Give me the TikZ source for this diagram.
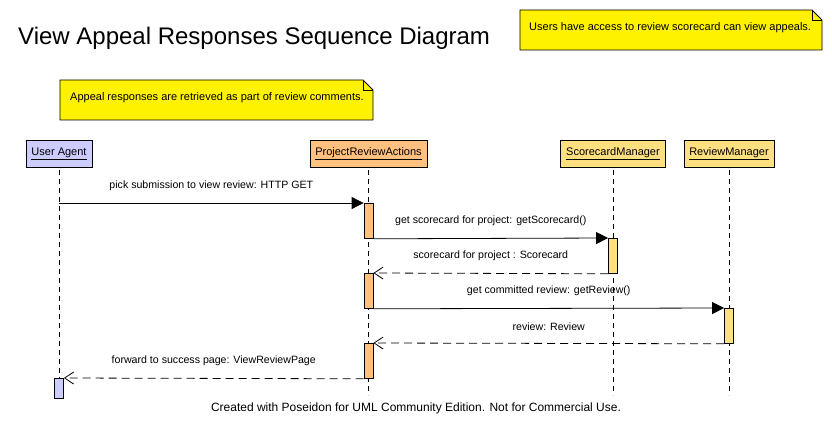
\documentclass[tikz,border=0pt]{standalone}
\usepackage{fontspec}
\setmainfont{Liberation Sans}
\usetikzlibrary{positioning,arrows.meta,calc}
\definecolor{agentblue}{HTML}{CCCCFF}
\definecolor{actorange}{HTML}{FFC080}
\definecolor{mgrgold}{HTML}{FFE080}

\begin{document}
\begin{tikzpicture}[x=1pt,y=-1pt,
  head/.style={draw,line width=0.8pt,minimum height=27pt,inner sep=0pt,font=\fontsize{11}{13}\selectfont},
  act/.style={draw,line width=0.8pt,minimum width=9pt,inner sep=0pt,anchor=north},
  life/.style={dash pattern=on 5pt off 4pt},
  call/.style={line width=0.8pt,-{Triangle[length=12pt,width=12pt]}},
  ret/.style={line width=0.8pt,dash pattern=on 8pt off 5pt,-{Straight Barb[length=9pt,width=12pt]}},
  lb/.style={font=\fontsize{10.6}{12}\selectfont,inner sep=0pt,above=12pt},
  note/.style={draw,line width=0.8pt,fill=yellow},
  notetext/.style={font=\fontsize{11}{13}\selectfont,anchor=west,inner sep=0pt}]
\useasboundingbox (0,0) rectangle (832,433);
% title and notes
\node[anchor=base west,font=\fontsize{24}{28}\selectfont,inner sep=0pt] (title) at (18,45) {View Appeal Responses Sequence Diagram};
\draw[note] (520,10) -- (812,10) -- (822,20) -- (822,50) -- (520,50) -- cycle;
\draw[line width=0.8pt] (812,10) -- (812,20) -- (822,20);
\node[notetext] (accessnote) at (529,28) {Users have access to review scorecard can view appeals.};
\draw[note] (60,80) -- (363,80) -- (373,90) -- (373,120) -- (60,120) -- cycle;
\draw[line width=0.8pt] (363,80) -- (363,90) -- (373,90);
\node[notetext] (appealnote) at (70,98) {Appeal responses are retrieved as part of review comments.};
% lifeline heads
\node[head,fill=agentblue,minimum width=66pt] (ua) at (59,153.5) {\underline{User Agent}};
\node[head,fill=actorange,minimum width=117pt] (pra) at (368.5,153.5) {\underline{ProjectReviewActions}};
\node[head,fill=mgrgold,minimum width=105pt] (sm) at (613,153.5) {\underline{ScorecardManager}};
\node[head,fill=mgrgold,minimum width=90pt] (rm) at (729,153.5) {\underline{ReviewManager}};
\foreach \h in {ua,pra,sm,rm}
  \draw[life] ($(\h.south)+(0,3)$) -- ($(\h.south)+(0,228)$);
% activations
\node[act,fill=actorange,minimum height=35pt] (a1) at (368.5,203) {};
\node[act,fill=mgrgold,minimum height=35pt] (s1) at (613,238) {};
\node[act,fill=actorange,minimum height=35pt] (a2) at (368.5,273) {};
\node[act,fill=mgrgold,minimum height=35pt] (r1) at (729,308) {};
\node[act,fill=actorange,minimum height=35pt] (a3) at (368.5,343) {};
\node[act,fill=agentblue,minimum height=20pt] (u1) at (59,378) {};
% messages
\draw[call] (ua.south |- a1.north) -- (a1.north west) node[midway,lb] {pick submission to view review: HTTP GET};
\draw[call] (a1.south east) -- (s1.north west) node[midway,lb] {get scorecard for project: getScorecard()};
\draw[ret] (s1.south west) -- (a2.north east) node[midway,lb] {scorecard for project : Scorecard};
\draw[call] (a2.south east) -- (r1.north west) node[midway,lb] {get committed review: getReview()};
\draw[ret] (r1.south west) -- (a3.north east) node[midway,lb] {review: Review};
\draw[ret] (a3.south west) -- (u1.north east) node[midway,lb] {forward to success page: ViewReviewPage};
\node[font=\fontsize{12}{14}\selectfont] (footer) at (416,408) {Created with Poseidon for UML Community Edition. Not for Commercial Use.};
\end{tikzpicture}
\end{document}
